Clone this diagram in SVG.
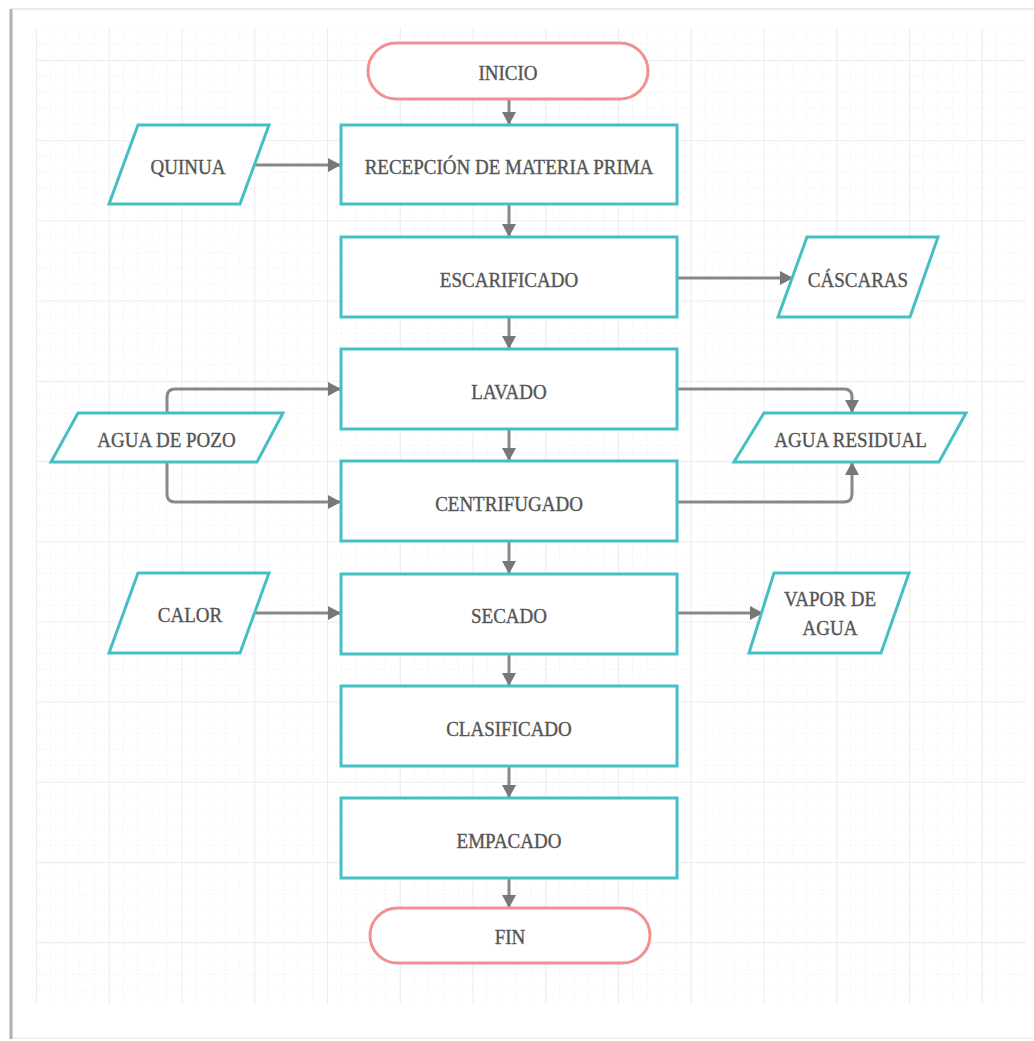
<svg xmlns="http://www.w3.org/2000/svg" width="1034" height="1041" viewBox="0 0 1034 1041">
  <style>
    .proc { fill: #ffffff; stroke: #45bfc4; stroke-width: 3; }
    .term { fill: #ffffff; stroke: #f28f8f; stroke-width: 3; }
    .io { fill: #ffffff; stroke: #45bfc4; stroke-width: 3; stroke-linejoin: miter; }
    .lbl { font-family: "Liberation Serif", "DejaVu Serif", serif; font-size: 19px; fill: #555555; stroke: #555555; stroke-width: 0.35; text-anchor: middle; }
    .conn { fill: none; stroke: #888888; stroke-width: 3; marker-end: url(#arrow); }
  </style>
  <defs>
    <marker id="arrow" markerUnits="userSpaceOnUse" markerWidth="14" markerHeight="14" refX="12" refY="7" orient="auto">
      <path d="M0,0 L13,7 L0,14 Z" fill="#777777"/>
    </marker>
    <!-- canvas grid: major cell with four dotted subdivisions each way -->
    <pattern id="grid" patternUnits="userSpaceOnUse" x="36" y="60" width="72.75" height="80.2">
      <g stroke="#eeeeee" stroke-width="1" stroke-dasharray="1.5 3">
        <line x1="14.55" y1="0" x2="14.55" y2="80.2"/>
        <line x1="29.1" y1="0" x2="29.1" y2="80.2"/>
        <line x1="43.65" y1="0" x2="43.65" y2="80.2"/>
        <line x1="58.2" y1="0" x2="58.2" y2="80.2"/>
        <line x1="0" y1="16.04" x2="72.75" y2="16.04"/>
        <line x1="0" y1="32.08" x2="72.75" y2="32.08"/>
        <line x1="0" y1="48.12" x2="72.75" y2="48.12"/>
        <line x1="0" y1="64.16" x2="72.75" y2="64.16"/>
      </g>
      <g stroke="#e6e6e6" stroke-width="1.5">
        <line x1="0" y1="0" x2="0" y2="80.2"/>
        <line x1="0" y1="0" x2="72.75" y2="0"/>
      </g>
    </pattern>
  </defs>

  <!-- page -->
  <rect x="0" y="0" width="1034" height="1041" fill="#ffffff"/>
  <line x1="10" y1="9" x2="1034" y2="9" stroke="#e4e4e4" stroke-width="1.5"/>
  <line x1="10" y1="1038" x2="1034" y2="1038" stroke="#ececec" stroke-width="1.5"/>
  <line x1="11" y1="9" x2="11" y2="1039" stroke="#b0b0b0" stroke-width="3"/>
  <rect x="36" y="28" width="990" height="976" fill="url(#grid)"/>

  <!-- connectors -->
  <g id="connectors">
    <path class="conn" d="M509,99 V124"/>
    <path class="conn" d="M509,204 V236"/>
    <path class="conn" d="M509,317 V348"/>
    <path class="conn" d="M509,429 V460"/>
    <path class="conn" d="M509,541 V573"/>
    <path class="conn" d="M509,654 V685"/>
    <path class="conn" d="M509,766 V797"/>
    <path class="conn" d="M509,878 V907"/>
    <path class="conn" d="M254,165 H340"/>
    <path class="conn" d="M677,278 H792"/>
    <path class="conn" d="M167,413 V397 Q167,389 175,389 H340"/>
    <path class="conn" d="M167,462 V494 Q167,502 175,502 H340"/>
    <path class="conn" d="M677,389 H844 Q852,389 852,397 V412"/>
    <path class="conn" d="M677,502 H844 Q852,502 852,494 V463"/>
    <path class="conn" d="M254,613 H340"/>
    <path class="conn" d="M677,613 H762"/>
  </g>

  <!-- process column -->
  <g id="inicio">
    <rect class="term" x="368" y="43" width="280" height="56" rx="28"/>
    <text class="lbl" transform="translate(508 80) scale(1 1.1)">INICIO</text>
  </g>
  <g id="recepcion">
    <rect class="proc" x="341" y="125" width="336" height="79"/>
    <text class="lbl" transform="translate(509 174) scale(1 1.1)">RECEPCIÓN DE MATERIA PRIMA</text>
  </g>
  <g id="escarificado">
    <rect class="proc" x="341" y="237" width="336" height="80"/>
    <text class="lbl" transform="translate(509 286.5) scale(1 1.1)">ESCARIFICADO</text>
  </g>
  <g id="lavado">
    <rect class="proc" x="341" y="349" width="336" height="80"/>
    <text class="lbl" transform="translate(509 398.5) scale(1 1.1)">LAVADO</text>
  </g>
  <g id="centrifugado">
    <rect class="proc" x="341" y="461" width="336" height="80"/>
    <text class="lbl" transform="translate(509 510.5) scale(1 1.1)">CENTRIFUGADO</text>
  </g>
  <g id="secado">
    <rect class="proc" x="341" y="574" width="336" height="80"/>
    <text class="lbl" transform="translate(509 623) scale(1 1.1)">SECADO</text>
  </g>
  <g id="clasificado">
    <rect class="proc" x="341" y="686" width="336" height="80"/>
    <text class="lbl" transform="translate(509 735.5) scale(1 1.1)">CLASIFICADO</text>
  </g>
  <g id="empacado">
    <rect class="proc" x="341" y="798" width="336" height="80"/>
    <text class="lbl" transform="translate(509 847.5) scale(1 1.1)">EMPACADO</text>
  </g>
  <g id="fin">
    <rect class="term" x="370" y="908" width="280" height="55" rx="27.5"/>
    <text class="lbl" transform="translate(510 943.5) scale(1 1.1)">FIN</text>
  </g>

  <!-- inputs and outputs -->
  <g id="quinua">
    <polygon class="io" points="138,125 269,125 240,204 109,204"/>
    <text class="lbl" transform="translate(188 174) scale(1 1.1)">QUINUA</text>
  </g>
  <g id="cascaras">
    <polygon class="io" points="807,237 938,237 910,317 778,317"/>
    <text class="lbl" transform="translate(858 286.5) scale(1 1.1)">CÁSCARAS</text>
  </g>
  <g id="agua-pozo">
    <polygon class="io" points="78,413 283,413 257,462 51,462"/>
    <text class="lbl" transform="translate(166.5 446.5) scale(1 1.1)">AGUA DE POZO</text>
  </g>
  <g id="agua-residual">
    <polygon class="io" points="764,413 966,413 939,462 734,462"/>
    <text class="lbl" transform="translate(850.5 446.5) scale(1 1.1)">AGUA RESIDUAL</text>
  </g>
  <g id="calor">
    <polygon class="io" points="138,573 269,573 240,653 109,653"/>
    <text class="lbl" transform="translate(190 622) scale(1 1.1)">CALOR</text>
  </g>
  <g id="vapor">
    <polygon class="io" points="774,573 909,573 881,653 749,653"/>
    <text class="lbl" transform="translate(830 606) scale(1 1.1)">VAPOR DE</text>
    <text class="lbl" transform="translate(830 635) scale(1 1.1)">AGUA</text>
  </g>
</svg>
